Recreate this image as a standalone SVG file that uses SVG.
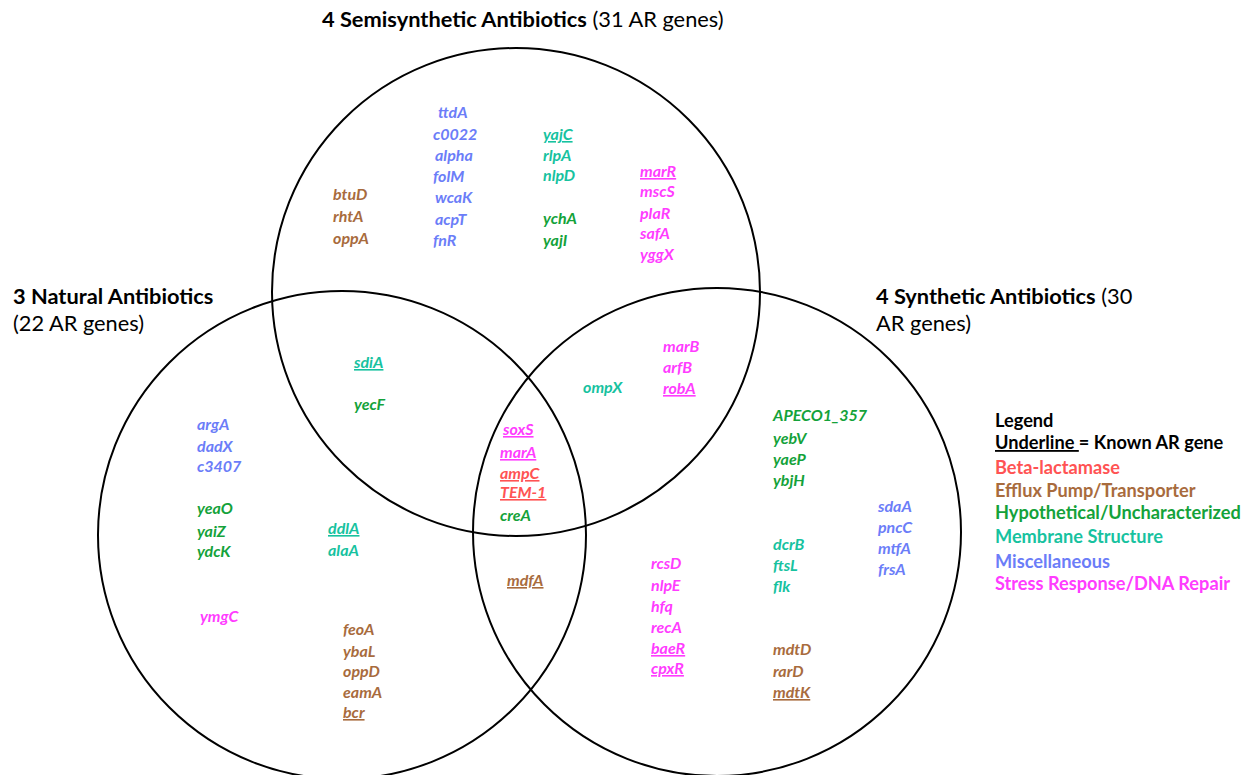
<svg xmlns="http://www.w3.org/2000/svg" width="1244" height="775" viewBox="0 0 1244 775">
<style>
.set{fill:none;stroke:#000;stroke-width:2}
.g{font-family:Lato,"Liberation Sans",sans-serif;font-size:16px;font-weight:bold;font-style:italic}
.t{font-family:Lato,"Liberation Sans",sans-serif;font-size:21.8px;fill:#000}
.b{font-weight:bold}
.lg{font-family:Lato,"Liberation Sans",sans-serif;font-size:18.2px;font-weight:bold}
.u{text-decoration:underline}
.bl{fill:#FF5353}
.ef{fill:#A86B3D}
.hy{fill:#14A23A}
.me{fill:#17C29F}
.mi{fill:#6B7DF8}
.st{fill:#FF3CFF}
</style>
<rect width="1244" height="775" fill="#fff"/>
<g id="sets">
<circle id="set-semisynthetic" class="set" cx="516" cy="292" r="244"/>
<circle id="set-natural" class="set" cx="342" cy="535" r="244"/>
<circle id="set-synthetic" class="set" cx="717" cy="532" r="244"/>
</g>
<g id="titles">
<text id="title-semi" class="t" x="322" y="27"><tspan class="b">4 Semisynthetic Antibiotics</tspan> (31 AR genes)</text>
<text id="title-nat" class="t" x="13" y="304"><tspan class="b">3 Natural Antibiotics</tspan></text>
<text class="t" x="13" y="331">(22 AR genes)</text>
<text id="title-syn" class="t" x="876" y="304"><tspan class="b">4 Synthetic Antibiotics</tspan> (30</text>
<text class="t" x="876" y="331">AR genes)</text>
</g>
<g id="semi-only" class="g">
<text class="mi" x="438" y="118">ttdA</text>
<text class="mi" x="433" y="140">c0022</text>
<text class="mi" x="435" y="161">alpha</text>
<text class="mi" x="433" y="182">folM</text>
<text class="mi" x="435" y="203">wcaK</text>
<text class="mi" x="435" y="225">acpT</text>
<text class="mi" x="433" y="246">fnR</text>
<text class="ef" x="333" y="200">btuD</text>
<text class="ef" x="333" y="222">rhtA</text>
<text class="ef" x="333" y="244">oppA</text>
<text class="me u" x="543" y="140">yajC</text>
<text class="me" x="543" y="161">rlpA</text>
<text class="me" x="543" y="181">nlpD</text>
<text class="hy" x="543" y="224">ychA</text>
<text class="hy" x="543" y="246">yajI</text>
<text class="st u" x="640" y="177">marR</text>
<text class="st" x="640" y="197">mscS</text>
<text class="st" x="640" y="219">plaR</text>
<text class="st" x="640" y="239">safA</text>
<text class="st" x="640" y="260">yggX</text>
</g>
<g id="semi-natural" class="g">
<text class="me u" x="354" y="368">sdiA</text>
<text class="hy" x="354" y="410">yecF</text>
</g>
<g id="semi-synthetic" class="g">
<text class="me" x="583" y="393">ompX</text>
<text class="st" x="663" y="352">marB</text>
<text class="st" x="663" y="373">arfB</text>
<text class="st u" x="663" y="394">robA</text>
</g>
<g id="all-three" class="g">
<text class="st u" x="503" y="435">soxS</text>
<text class="st u" x="500" y="458">marA</text>
<text class="bl u" x="500" y="479">ampC</text>
<text class="bl u" x="500" y="498">TEM-1</text>
<text class="hy" x="500" y="521">creA</text>
</g>
<g id="natural-synthetic" class="g">
<text class="ef u" x="507" y="586">mdfA</text>
</g>
<g id="natural-only" class="g">
<text class="mi" x="197" y="430">argA</text>
<text class="mi" x="197" y="452">dadX</text>
<text class="mi" x="197" y="472">c3407</text>
<text class="hy" x="197" y="514">yeaO</text>
<text class="hy" x="197" y="537">yaiZ</text>
<text class="hy" x="197" y="557">ydcK</text>
<text class="me u" x="328" y="534">ddlA</text>
<text class="me" x="328" y="556">alaA</text>
<text class="st" x="200" y="622">ymgC</text>
<text class="ef" x="343" y="635">feoA</text>
<text class="ef" x="343" y="657">ybaL</text>
<text class="ef" x="343" y="677">oppD</text>
<text class="ef" x="343" y="698">eamA</text>
<text class="ef u" x="343" y="718">bcr</text>
</g>
<g id="synthetic-only" class="g">
<text class="hy" x="773" y="421">APECO1_357</text>
<text class="hy" x="773" y="444">yebV</text>
<text class="hy" x="773" y="465">yaeP</text>
<text class="hy" x="773" y="486">ybjH</text>
<text class="mi" x="878" y="512">sdaA</text>
<text class="mi" x="878" y="533">pncC</text>
<text class="mi" x="878" y="554">mtfA</text>
<text class="mi" x="878" y="575">frsA</text>
<text class="me" x="773" y="550">dcrB</text>
<text class="me" x="773" y="571">ftsL</text>
<text class="me" x="773" y="592">flk</text>
<text class="st" x="651" y="569">rcsD</text>
<text class="st" x="651" y="591">nlpE</text>
<text class="st" x="651" y="612">hfq</text>
<text class="st" x="651" y="633">recA</text>
<text class="st u" x="651" y="654">baeR</text>
<text class="st u" x="651" y="674">cpxR</text>
<text class="ef" x="773" y="655">mdtD</text>
<text class="ef" x="773" y="677">rarD</text>
<text class="ef u" x="773" y="698">mdtK</text>
</g>
<g id="legend" class="lg">
<text x="995" y="427" fill="#000">Legend</text>
<text x="995" y="449" fill="#000"><tspan class="u">Underline </tspan>= Known AR gene</text>
<text class="bl" x="995" y="474">Beta-lactamase</text>
<text class="ef" x="995" y="497">Efflux Pump/Transporter</text>
<text class="hy" x="995" y="519">Hypothetical/Uncharacterized</text>
<text class="me" x="995" y="543">Membrane Structure</text>
<text class="mi" x="995" y="568">Miscellaneous</text>
<text class="st" x="995" y="590">Stress Response/DNA Repair</text>
</g>
</svg>
